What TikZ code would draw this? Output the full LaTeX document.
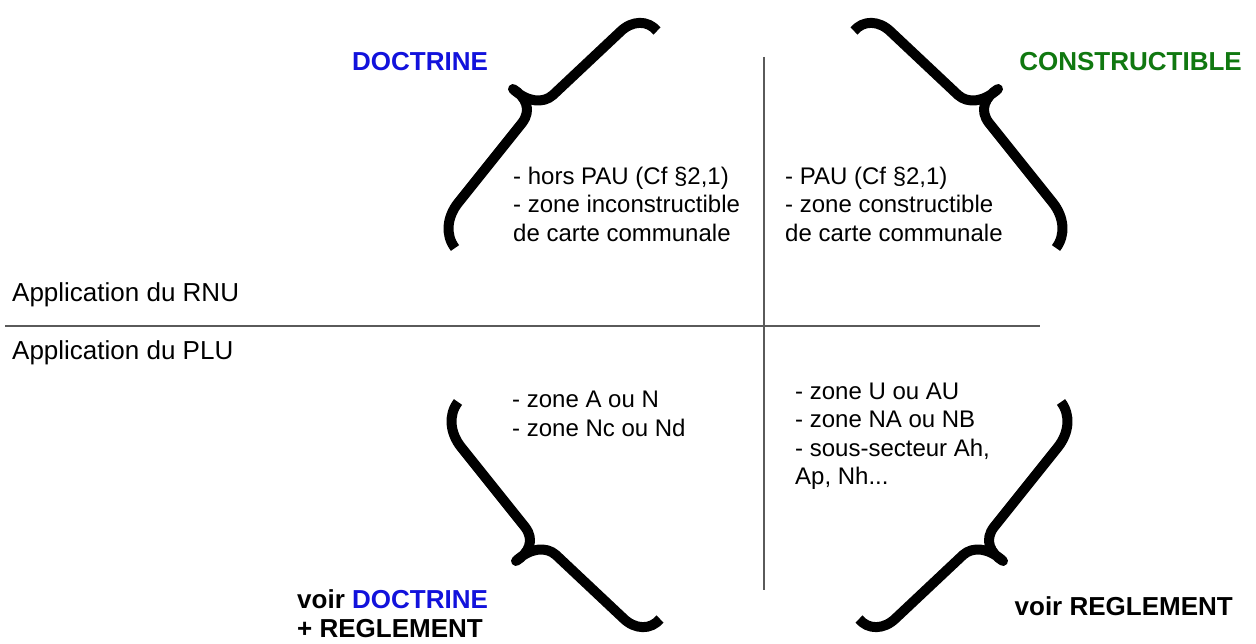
\documentclass[tikz,border=0pt]{standalone}
\usepackage{fontspec}
\setmainfont{Liberation Sans}
\definecolor{docblue}{RGB}{18,18,220}
\definecolor{congreen}{RGB}{16,120,16}
\definecolor{rulegray}{RGB}{90,90,90}
\tikzset{
  txt/.style={font=\fontsize{24}{28.5}\selectfont, align=left, anchor=west, inner sep=0pt},
  lbl/.style={font=\fontsize{26}{30}\selectfont, anchor=west, inner sep=0pt},
  hdr/.style={font=\fontsize{26}{29}\selectfont\bfseries, align=left, inner sep=0pt},
  bracestroke/.style={line width=10pt, line join=round},
  rulestroke/.style={draw=rulegray, line width=1.2pt}
}
\begin{document}
\begin{tikzpicture}[x=1pt,y=-1pt]
\useasboundingbox (0,0) rectangle (1256,644);
\fill[white] (0,0) rectangle (1256,644);

% axes
\coordinate (vtop) at (764,57);
\coordinate (vbot) at (764,590);
\coordinate (hleft) at (5,326);
\coordinate (hright) at (1040,326);
\draw[rulestroke] (vtop) -- (vbot);
\draw[rulestroke] (hleft) -- (hright);

% braces
\draw[bracestroke] (657,31) .. controls (648,20) and (632,20) .. (620,32)
  -- (553,95) .. controls (543,104) and (527,102) .. (513,89)
  .. controls (526,97) and (532,110) .. (522,123)
  -- (458,203) .. controls (447,217) and (445,235) .. (455,248);
\draw[bracestroke] (854,31) .. controls (863,20) and (879,20) .. (891,32)
  -- (958,95) .. controls (968,104) and (984,102) .. (998,89)
  .. controls (985,97) and (979,110) .. (989,123)
  -- (1053,203) .. controls (1064,217) and (1066,235) .. (1056,248);
\draw[bracestroke] (660,619) .. controls (651,630) and (635,630) .. (623,618)
  -- (556,555) .. controls (546,546) and (530,548) .. (516,561)
  .. controls (529,553) and (535,540) .. (525,527)
  -- (461,447) .. controls (450,433) and (448,415) .. (458,402);
\draw[bracestroke] (859,619) .. controls (868,630) and (884,630) .. (896,618)
  -- (963,555) .. controls (973,546) and (989,548) .. (1003,561)
  .. controls (990,553) and (984,540) .. (994,527)
  -- (1058,447) .. controls (1069,433) and (1071,415) .. (1061,402);

% headers
\node[hdr, text=docblue, anchor=west] (doc) at (352,62) {DOCTRINE};
\node[hdr, text=congreen, anchor=east] (con) at (1242,62) {CONSTRUCTIBLE};
\node[hdr, anchor=west] (voirdoc) at (297,614) {voir \textcolor{docblue}{DOCTRINE}\\+ REGLEMENT};
\node[hdr, anchor=east] (voirreg) at (1233,606) {voir REGLEMENT};

% row labels
\node[lbl] (rnu) at (12,295) {Application du RNU};
\node[lbl] (plu) at (12,353) {Application du PLU};

% quadrant texts
\node[txt] (tl) at (513,204) {- hors PAU (Cf §2,1)\\- zone inconstructible\\de carte communale};
\node[txt] (tr) at (785,204) {- PAU (Cf §2,1)\\- zone constructible\\de carte communale};
\node[txt] (bl) at (512,414) {- zone A ou N\\- zone Nc ou Nd};
\node[txt] (br) at (795,436) {- zone U ou AU\\- zone NA ou NB\\- sous-secteur Ah,\\Ap, Nh...};
\end{tikzpicture}
\end{document}
